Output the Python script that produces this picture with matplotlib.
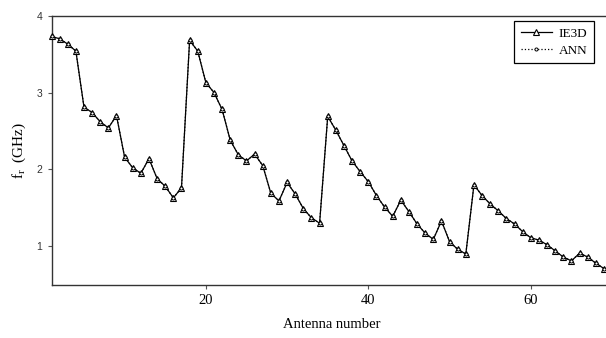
import numpy as np
import matplotlib.pyplot as plt

# antenna index
antenna = np.arange(1, 71)

# resonant frequency (GHz)
ie3d = [3.73, 3.70, 3.63, 3.54, 2.81, 2.74, 2.62, 2.54, 2.70, 2.16,
        2.02, 1.95, 2.14, 1.88, 1.78, 1.63, 1.76, 3.68, 3.54, 3.13,
        3.00, 2.78, 2.38, 2.19, 2.11, 2.20, 2.05, 1.69, 1.59, 1.83,
        1.68, 1.49, 1.37, 1.30, 2.69, 2.51, 2.31, 2.11, 1.97, 1.84,
        1.66, 1.51, 1.39, 1.60, 1.45, 1.29, 1.17, 1.09, 1.33, 1.06,
        0.96, 0.90, 1.80, 1.66, 1.55, 1.46, 1.36, 1.29, 1.19, 1.11,
        1.08, 1.02, 0.94, 0.86, 0.81, 0.91, 0.86, 0.78, 0.71, 0.66]
# ANN output sits on top of the IE3D curve
ann = [3.73, 3.70, 3.63, 3.54, 2.81, 2.74, 2.62, 2.54, 2.70, 2.16,
       2.02, 1.95, 2.14, 1.88, 1.78, 1.63, 1.76, 3.68, 3.54, 3.13,
       3.00, 2.78, 2.38, 2.19, 2.11, 2.20, 2.05, 1.69, 1.59, 1.83,
       1.68, 1.49, 1.37, 1.30, 2.69, 2.51, 2.31, 2.11, 1.97, 1.84,
       1.66, 1.51, 1.39, 1.60, 1.45, 1.29, 1.17, 1.09, 1.33, 1.06,
       0.96, 0.90, 1.80, 1.66, 1.55, 1.46, 1.36, 1.29, 1.19, 1.11,
       1.08, 1.02, 0.94, 0.86, 0.81, 0.91, 0.86, 0.78, 0.71, 0.66]

serif = 'Liberation Serif'

fig = plt.figure(figsize=(6.06, 3.38), dpi=100)
ax = fig.add_axes([51.5 / 606, 1 - 284.7 / 338, 1 - 51.5 / 606 + 0.01, (284.7 - 15.7) / 338])

ax.plot(antenna, ie3d, '-', color='black', lw=0.9, marker='^', ms=4.5,
        mfc='white', mec='black', mew=0.8, label='IE3D', clip_on=False, zorder=3)
ax.plot(antenna, ann, ':', color='black', lw=0.9, marker='o', ms=2.2,
        mfc='white', mec='black', mew=0.7, label='ANN', clip_on=False, zorder=4)

ax.set_xlim(1, 70)
ax.set_ylim(0.5, 4)
ax.set_xticks([20, 40, 60])
ax.set_yticks([1, 2, 3, 4])

for s in ax.spines.values():
    s.set_linewidth(1.0)
    s.set_color('#333333')
ax.spines['right'].set_visible(False)

ax.tick_params(axis='both', direction='out', length=3, width=0.8, color='#555555')
for lab in ax.get_xticklabels():
    lab.set_fontfamily(serif)
    lab.set_fontsize(10.5)
for lab in ax.get_yticklabels():
    lab.set_fontfamily('Liberation Sans')
    lab.set_fontsize(7.5)
    lab.set_color('#333333')

ax.set_xlabel('Antenna number', fontfamily=serif, fontsize=10.5, labelpad=8)
ax.set_ylabel(r'f$_\mathregular{r}$  (GHz)', fontfamily=serif, fontsize=11, labelpad=6)

leg = ax.legend(loc='upper right', prop={'family': serif, 'size': 9.5},
                fancybox=False, edgecolor='black', framealpha=1,
                handlelength=2.4, borderpad=0.5, labelspacing=0.35, handletextpad=0.5,
                borderaxespad=0)
leg.get_frame().set_linewidth(0.9)
leg.set_bbox_to_anchor((594 / 606, 1 - 21 / 338), transform=fig.transFigure)

fig.savefig('out.png', dpi=100)
